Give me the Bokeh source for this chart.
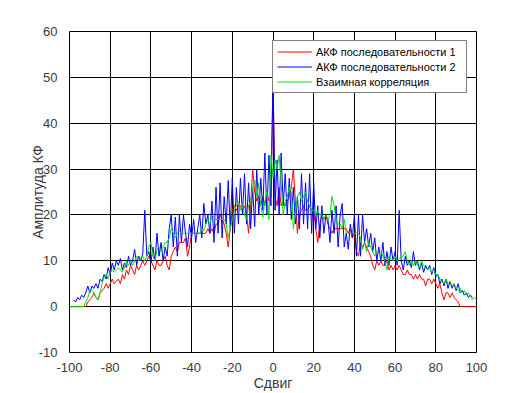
from bokeh.plotting import figure
from bokeh.models import Range1d, FixedTicker
from bokeh.embed import file_html
from bokeh.resources import INLINE

# ---- data ----
lags = list(range(-100, 101))
lags2 = list(range(-98, 99))

acf1 = [0, 0, 0, 0, 0, 0, 0, 0,
        0, 1, 1.5, 2, 3, 2, 1.5, 3, 3.5, 4,
        5, 4, 5, 6, 5, 5.5, 6, 5, 7, 6,
        8, 7, 9, 8, 7, 9, 8, 9, 10, 9,
        10, 11, 10, 9, 8, 10, 9, 9, 10, 11,
        9, 8, 11, 12, 13, 12, 14, 14, 14, 15,
        11, 13, 16, 16, 16, 16, 16, 16, 16, 16,
        17, 16, 17, 16, 18, 18, 20, 19, 18, 16,
        13, 17, 21, 22, 21, 22, 22, 21, 22, 20,
        16, 22, 30, 25, 23, 24, 22, 24, 22, 25, 23, 24,
        50,
        24, 22, 26, 22, 23, 22, 23, 24, 26, 30, 23, 16,
        20, 21, 22, 21, 21, 22, 21, 21, 17, 14,
        18, 20, 19, 20, 18, 17, 16, 17, 17, 17,
        17, 17, 17, 17, 16, 17, 15, 16, 12, 11,
        14, 13, 14, 13, 12, 11, 9, 8, 10, 9,
        10, 9, 9, 10, 8, 9, 8, 9, 8, 9,
        8, 7, 7, 8, 7, 7, 6, 7, 6, 7,
        6, 6, 4.5, 6, 6, 5, 6, 5, 4, 5,
        3, 1.5, 3, 3, 2, 3, 2, 1.5, 1, 0,
        0, 0, 0, 0, 0, 0, 0, 0]

acf2 = [1.5, 1, 2, 1.5, 2.5, 2, 3, 4.5, 3, 4.5,
        4, 5, 4, 6, 5.5, 7, 6, 8.5, 7, 9.5,
        8, 10, 9, 10.5, 8, 9.5, 8.5, 11, 9, 10,
        12.5, 9, 11, 10, 11.5, 21, 11, 12, 9.5, 13,
        10, 16, 11, 14, 10, 13, 11, 17, 20, 13,
        19.5, 11, 20, 14, 20, 16, 13, 18, 15, 19,
        14, 17, 20, 15, 22.5, 18, 20, 16, 23, 14,
        26, 16, 27, 15, 24, 18, 27.5, 17, 28, 16,
        26, 18, 28, 20, 29, 18, 27, 17, 26, 17.5,
        30, 20, 28, 21, 33.5, 20, 33, 22,
        50,
        21, 32, 20, 33.5, 22, 29, 20, 28, 19, 26,
        18, 24, 17, 29, 18, 27, 17, 29, 16, 27,
        17, 22, 15, 22, 16, 20, 19, 14, 21, 16,
        22, 13, 20, 22.5, 13, 16, 12.5, 18, 15, 20,
        11, 20, 11, 20, 14, 17, 13, 16, 12, 15,
        10, 13, 10, 14, 9, 12, 9, 13, 10, 12,
        9, 21, 10, 8, 11, 9, 10, 8.5, 12, 9,
        10, 8, 9.5, 7.5, 9, 8, 9, 7, 8.5, 6.5,
        7, 5, 6, 4.5, 6, 4, 5.5, 4, 5, 3.5,
        5, 3, 3.5, 2.5, 3, 2, 2.5, 2]

xcorr = [0, 0, 0, 0, 0, 0, 0, 0,
         1, 2, 3.5, 3.5, 3, 2, 1.5, 3, 5, 6.5,
         7, 6, 7.5, 8, 7.5, 8, 8.5, 8, 7.5, 8.5,
         10, 9, 10, 9, 10, 11, 10, 10.5, 11, 10,
         11, 13, 14, 11, 10, 12.5, 13, 12, 13, 14,
         14, 15, 17, 16, 15, 16, 16.5, 16, 16, 16,
         16, 16, 16, 16, 16, 16, 16, 17, 16.5, 18,
         19, 18, 20, 19.5, 19, 19, 19, 19, 19, 18,
         15, 17, 19, 21, 22, 23, 21, 22, 20, 19,
         22, 23, 26, 27.5, 24, 27, 22, 19.5, 23, 25, 19, 33,
         28,
         32, 30, 33, 27, 20, 23, 24, 26, 25, 17, 20, 24,
         25, 23, 24, 25, 23, 22, 21, 21, 20, 21,
         20, 20, 19, 20, 19, 20, 24, 22, 19, 18,
         18, 17, 19, 16, 16.5, 16, 16, 16, 16, 16,
         15, 12.5, 14, 12, 14, 13, 12, 11, 12, 11.5,
         12, 11, 10, 8, 11, 10.5, 10, 11, 10, 10.5,
         11, 11, 12, 10, 9, 10, 9, 10, 9, 8.5,
         10, 9, 8.5, 8, 8.5, 7.5, 8, 7, 7, 6,
         5.5, 5, 6, 5, 5.5, 4.5, 5, 4, 3.5, 4,
         3, 3.5, 2.5, 3, 2, 1.5, 2, 1.5]

x_ticks = [-100, -80, -60, -40, -20, 0, 20, 40, 60, 80, 100]
x_tick_labels = ["-100", "-80", "-60", "-40", "-20", "0", "20", "40", "60", "80", "100"]
y_ticks = [-10, 0, 10, 20, 30, 40, 50, 60]
y_tick_labels = ["-10", "0", "10", "20", "30", "40", "50", "60"]

series_names = ["АКФ последовательности 1",
                "АКФ последовательности 2",
                "Взаимная корреляция"]

FONT = "Liberation Sans"
TXT = "#3a3a3a"

p = figure(width=525, height=393, output_backend="svg", toolbar_location=None,
           x_range=Range1d(-100, 100), y_range=Range1d(-10, 60),
           min_border_left=69, min_border_right=49,
           min_border_top=31, min_border_bottom=41)

p.line(lags, acf1, line_color="#ff0000", line_width=1, legend_label=series_names[0])
p.line(lags2, acf2, line_color="#0000ff", line_width=1, legend_label=series_names[1])
p.line(lags, xcorr, line_color="#00e000", line_width=1, legend_label=series_names[2])

p.outline_line_color = "black"
p.outline_line_width = 1
p.background_fill_color = "white"
p.border_fill_color = "white"

p.xaxis.ticker = FixedTicker(ticks=x_ticks)
p.yaxis.ticker = FixedTicker(ticks=y_ticks)
p.xaxis.major_label_overrides = dict(zip(x_ticks, x_tick_labels))
p.yaxis.major_label_overrides = dict(zip(y_ticks, y_tick_labels))
for ax in (p.xaxis[0], p.yaxis[0]):
    ax.axis_line_color = None
    ax.major_tick_line_color = None
    ax.minor_tick_line_color = None
    ax.major_label_text_font = FONT
    ax.major_label_text_font_size = "13px"
    ax.major_label_text_color = TXT
    ax.axis_label_text_font = FONT
    ax.axis_label_text_font_size = "14px"
    ax.axis_label_text_font_style = "normal"
    ax.axis_label_text_color = TXT
p.xaxis.axis_label = "Сдвиг"
p.yaxis.axis_label = "Амплитуда КФ"
p.xaxis.major_label_standoff = 4
p.xaxis.axis_label_standoff = 0
p.yaxis.major_label_standoff = 6
p.yaxis.axis_label_standoff = -10

p.xgrid.grid_line_color = "black"
p.ygrid.grid_line_color = "black"
p.xgrid.grid_line_alpha = 1
p.ygrid.grid_line_alpha = 1
p.xgrid.grid_line_width = 1
p.ygrid.grid_line_width = 1

lg = p.legend[0]
lg.location = "top_right"
lg.margin = 9
lg.padding = 4
lg.spacing = 2
lg.label_height = 13
lg.glyph_height = 13
lg.glyph_width = 35
lg.label_width = 146
lg.label_standoff = 4
lg.label_text_font = FONT
lg.label_text_font_size = "11px"
lg.label_text_color = "black"
lg.border_line_color = "black"
lg.border_line_width = 1
lg.background_fill_color = "white"
lg.background_fill_alpha = 1

open("out.html", "w").write(file_html(p, INLINE))
